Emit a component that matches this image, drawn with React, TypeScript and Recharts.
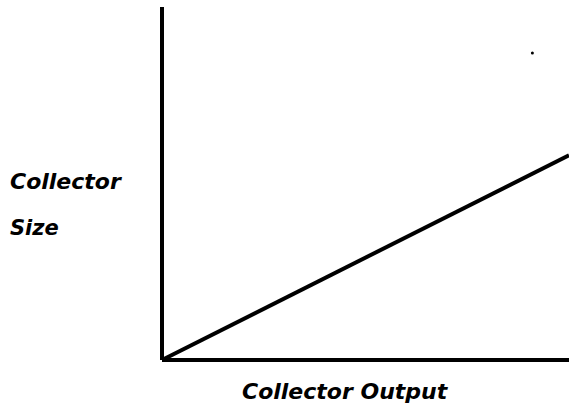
import { LineChart, Line, XAxis, YAxis, ReferenceDot, Label } from "recharts";

const outputs = [0, 100];
const sizes = [0, 58];
const strayMark = { output: 91, size: 87 };

const xTitle = "Collector Output";
const yTitle = ["Collector", "Size"];

const data = outputs.map((output, i) => ({ output, size: sizes[i] }));

const font = {
  fontFamily: "DejaVu Sans",
  fontWeight: "bold" as const,
  fontStyle: "italic" as const,
  fontSize: 22,
  fill: "#000",
};

const App = () => {
  return (
    <div style={{ position: "absolute", left: 0, top: 0, background: "#fff" }}>
      <LineChart width={569} height={414} data={data} margin={{ top: 7, right: 0, bottom: 0, left: 0 }}>
        <XAxis
          dataKey="output"
          type="number"
          domain={[0, 100]}
          height={54}
          tick={false}
          tickLine={false}
          axisLine={{ stroke: "#000", strokeWidth: 4 }}
        >
          <Label
            content={({ viewBox }: any) => (
              <text x={viewBox.x + 80} y={viewBox.y + 39} {...font}>
                {xTitle}
              </text>
            )}
          />
        </XAxis>
        <YAxis
          type="number"
          domain={[0, 100]}
          width={162}
          tick={false}
          tickLine={false}
          axisLine={{ stroke: "#000", strokeWidth: 4 }}
        >
          <Label
            content={() => (
              <g>
                <text x={10} y={189} {...font}>
                  {yTitle[0]}
                </text>
                <text x={10} y={235} {...font} fontSize={21}>
                  {yTitle[1]}
                </text>
              </g>
            )}
          />
        </YAxis>
        <Line
          type="linear"
          dataKey="size"
          stroke="#000"
          strokeWidth={4}
          dot={false}
          isAnimationActive={false}
        />
        <ReferenceDot x={strayMark.output} y={strayMark.size} r={1.5} fill="#000" stroke="none" />
      </LineChart>
    </div>
  );
};

export default App;
